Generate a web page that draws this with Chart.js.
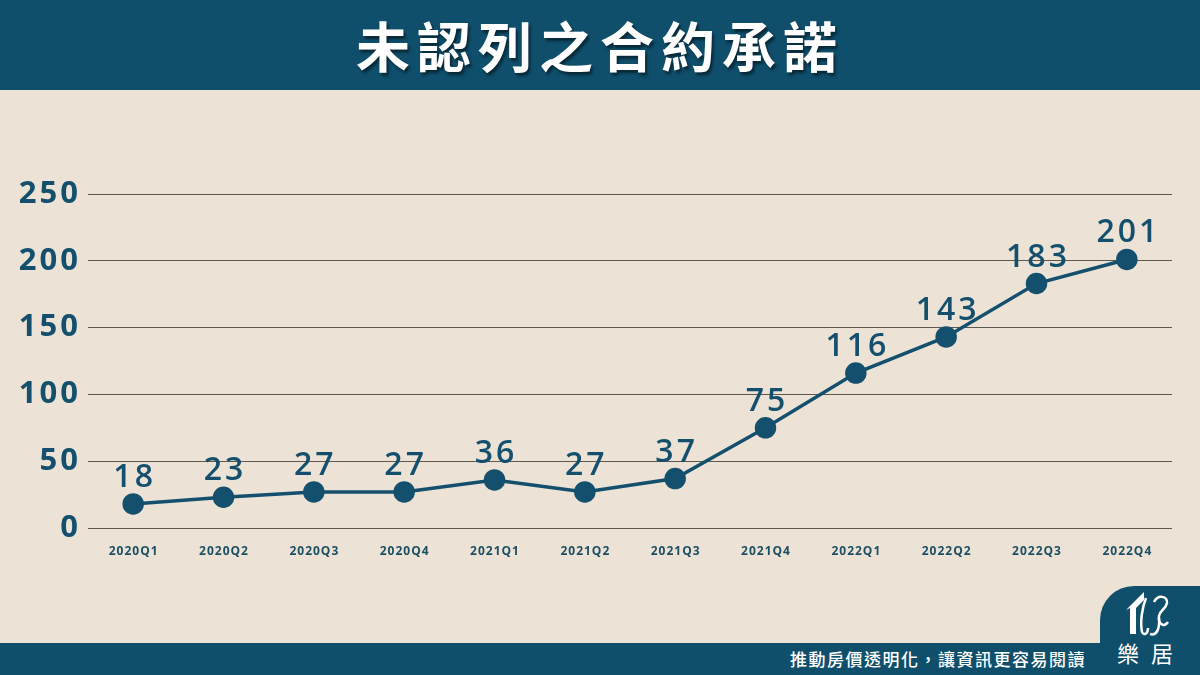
<!DOCTYPE html>
<html>
<head>
<meta charset="utf-8">
<script src="https://cdn.jsdelivr.net/npm/chart.js@4"></script>
<style>
  html, body { margin: 0; padding: 0; }
  body { width: 1200px; height: 675px; background: #ece3d6; position: relative; overflow: hidden; }
  .header { position: absolute; left: 0; top: 0; width: 1200px; height: 90px; background: #0f4f6c;
    color: #fff; font-family: "Noto Sans CJK TC", sans-serif; font-weight: 700; font-size: 54px;
    text-align: center; line-height: 90px; letter-spacing: 7px; text-shadow: 2px 3px 3px rgba(0,0,0,0.5); }
  .footer { position: absolute; left: 0; top: 643px; width: 1200px; height: 32px; background: #0f4f6c; }
  .slogan { position: absolute; right: 114px; top: 643px; height: 32px; line-height: 32px; color: #fff;
    font-family: "Noto Sans CJK TC", sans-serif; font-size: 17px; font-weight: 500; letter-spacing: 1.5px; }
  .tab { position: absolute; left: 1100px; top: 586px; width: 100px; height: 89px; background: #0f4f6c;
    border-top-left-radius: 34px; }
  .brand { position: absolute; left: 1117px; top: 636px; color: #fff; font-family: "Noto Sans CJK TC", sans-serif;
    font-size: 22px; letter-spacing: 12px; }
  #logo { position: absolute; left: 1122px; top: 588px; }
  #c { position: absolute; left: 0; top: 0; }
</style>
</head>
<body>
<div class="header">未認列之合約承諾</div>
<div class="footer"></div>
<div class="tab"></div>
<svg id="logo" width="56" height="52" viewBox="0 0 56 52">
  <path d="M4 22 L22 4 L22 12 L14 20 L14 46 L8 46 L8 20 Z" fill="#fff"/>
  <path d="M24 10 C20 20 18 34 20 44 C22 48 26 46 26 40" fill="none" stroke="#fff" stroke-width="2.5"/>
  <path d="M32 14 C36 6 46 8 45 15 C44 21 38 22 37 28 C36 36 42 40 46 34" fill="none" stroke="#fff" stroke-width="2.5"/>
  <path d="M37 30 C38 42 34 48 28 46" fill="none" stroke="#fff" stroke-width="2.5"/>
</svg>
<div class="brand">樂居</div>
<div class="slogan">推動房價透明化，讓資訊更容易閱讀</div>
<canvas id="c" width="1200" height="675"></canvas>
<script>
// Quarter labels and values
var quarters = ['2020Q1', '2020Q2', '2020Q3', '2020Q4', '2021Q1', '2021Q2',
                '2021Q3', '2021Q4', '2022Q1', '2022Q2', '2022Q3', '2022Q4'];
var values = [18, 23, 27, 27, 36, 27, 37, 75, 116, 143, 183, 201];
var yTicks = [0, 50, 100, 150, 200, 250];

var mainColor = '#14506e';

// wider letter spacing for the y axis numbers
var spacing = {
    id: 'spacing',
    beforeDraw: function(chart) {
        chart.ctx.letterSpacing = '3px';
    }
};

// numbers above the points and the quarter labels under the axis
var valueLabels = {
    id: 'valueLabels',
    afterDatasetsDraw: function(chart) {
        var ctx = chart.ctx;
        var meta = chart.getDatasetMeta(0);
        var xScale = chart.scales.x;
        ctx.save();
        ctx.letterSpacing = '3px';
        ctx.font = '600 32px "Open Sans"';
        ctx.fillStyle = mainColor;
        ctx.textAlign = 'center';
        ctx.textBaseline = 'alphabetic';
        meta.data.forEach(function(pt, i) {
            ctx.fillText(values[i], pt.x + 1.5, pt.y - 17);
        });

        ctx.letterSpacing = '1px';
        ctx.font = 'bold 12px "Open Sans"';
        ctx.fillStyle = '#1d4f63';
        ctx.textBaseline = 'middle';
        quarters.forEach(function(q, i) {
            ctx.fillText(q, xScale.getPixelForTick(i) + 0.5, chart.chartArea.bottom + 24);
        });
        ctx.restore();
    }
};

var ctx = document.getElementById('c').getContext('2d');
var myChart = new Chart(ctx, {
    type: 'line',
    data: {
        labels: quarters,
        datasets: [{
            data: values,
            borderColor: mainColor,
            backgroundColor: mainColor,
            borderWidth: 3.5,
            pointRadius: 9,
            pointHoverRadius: 9,
            tension: 0
        }]
    },
    options: {
        responsive: false,
        animation: false,
        layout: { padding: { top: 194, right: 28, left: 0, bottom: 0 } },
        plugins: { legend: { display: false }, tooltip: { enabled: false } },
        scales: {
            x: {
                offset: true,
                grid: { display: false, drawTicks: false },
                border: { display: false },
                ticks: { display: false },
                afterFit: function(scale) { scale.height = 147; }
            },
            y: {
                min: 0,
                max: 250,
                afterBuildTicks: function(scale) {
                    scale.ticks = yTicks.map(function(v) { return { value: v }; });
                },
                grid: { color: '#5e574d', lineWidth: 1, drawTicks: false },
                border: { display: false },
                ticks: {
                    padding: 7,
                    color: mainColor,
                    font: { family: 'Open Sans', size: 31, weight: 'bold' }
                },
                afterFit: function(scale) { scale.width = 88; }
            }
        }
    },
    plugins: [spacing, valueLabels]
});
</script>
</body>
</html>
